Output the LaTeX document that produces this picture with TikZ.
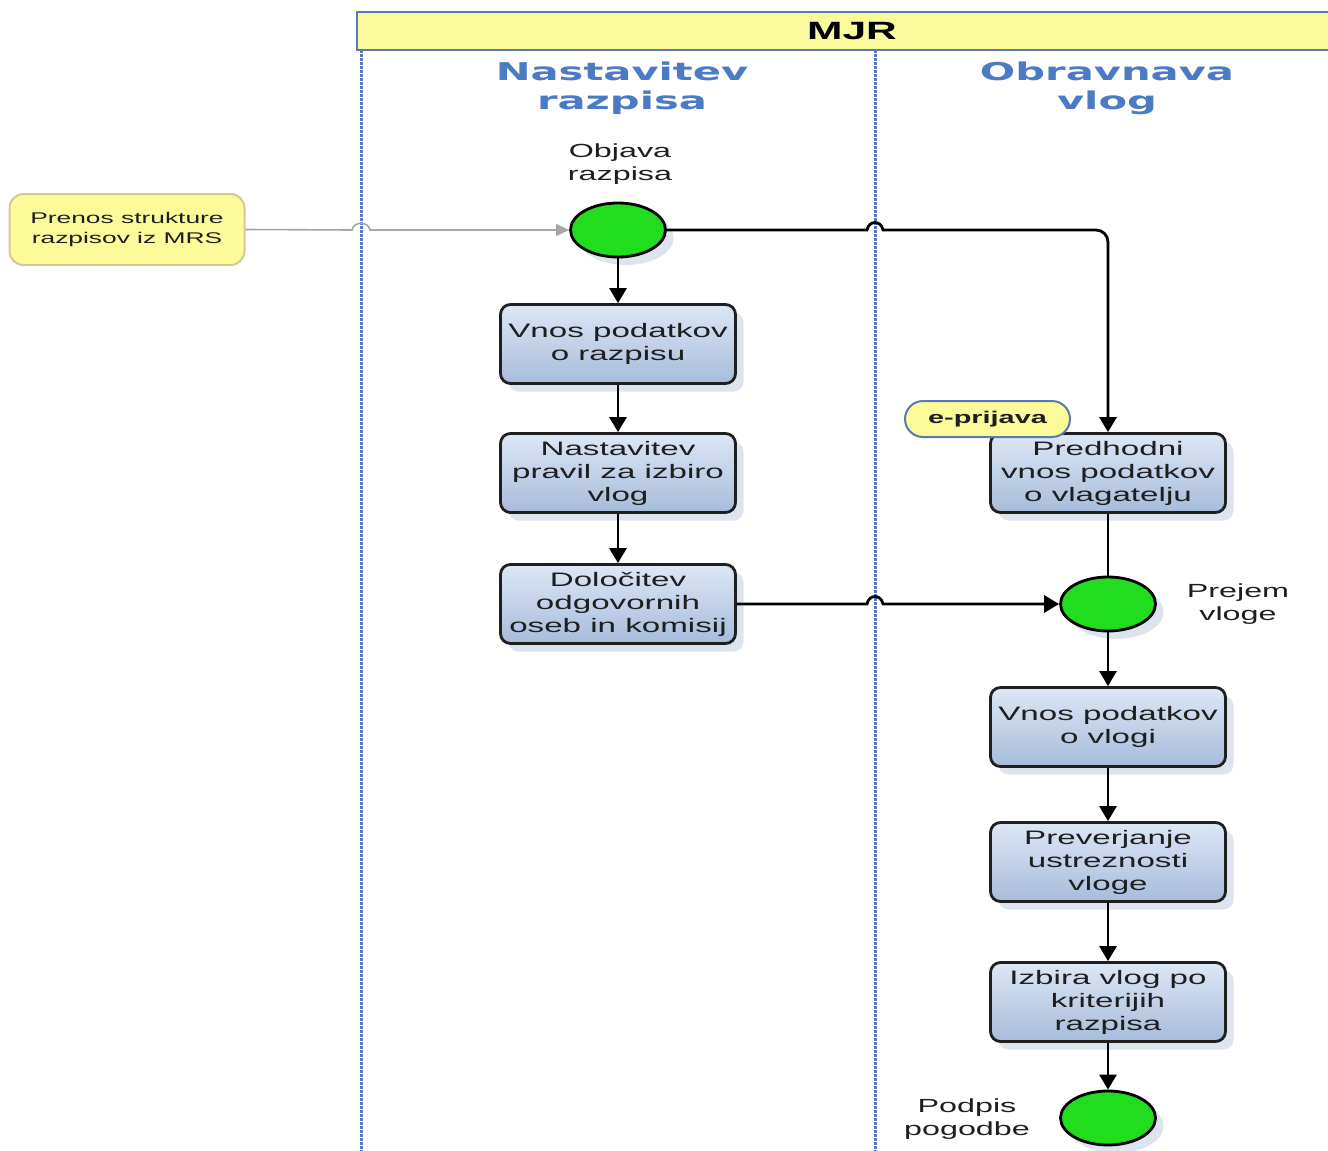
\documentclass[tikz,border=0pt]{standalone}
\usepackage{fontspec}
\setmainfont[FakeStretch=1.7]{Liberation Sans}
\newfontfamily\lanefont[FakeStretch=1.7]{DejaVu Sans}
\usetikzlibrary{arrows.meta,shapes.geometric,shadows}
\definecolor{boxtop}{HTML}{DDE7F5}
\definecolor{boxbot}{HTML}{A7BCDA}
\definecolor{shadowc}{HTML}{C9D2E3}
\definecolor{evgreen}{HTML}{22DD1E}
\definecolor{laneblue}{HTML}{4A7BC4}
\definecolor{dotblue}{HTML}{5A78B4}
\definecolor{yel}{HTML}{FCFB9A}
\definecolor{hdryel}{HTML}{FAFA9C}
\definecolor{tan}{HTML}{D2CA92}
\definecolor{txt}{HTML}{1E1E1E}
\begin{document}
\begin{tikzpicture}[x=1pt,y=-1pt,
  box/.style={draw=black!88, line width=2.8pt, rounded corners=10pt,
    top color=boxtop, bottom color=boxbot, minimum width=235pt, minimum height=79pt,
    align=center, inner sep=0pt, text=txt, font=\fontsize{19.5}{23}\selectfont,
    drop shadow={shadow xshift=8pt, shadow yshift=-8pt, fill=shadowc, opacity=0.6}},
  event/.style={ellipse, draw=black, line width=2.8pt, fill=evgreen,
    minimum width=95pt, minimum height=54pt, inner sep=0pt,
    drop shadow={shadow xshift=8pt, shadow yshift=-8pt, fill=shadowc, opacity=0.6}},
  lbl/.style={align=center, text=txt, inner sep=0pt, font=\fontsize{19}{23}\selectfont},
  lanetitle/.style={align=center, text=laneblue, inner sep=0pt, font=\lanefont\bfseries\fontsize{24.5}{29}\selectfont},
  lane/.style={draw=dotblue, line width=3pt, dash pattern=on 2.5pt off 1.5pt},
  flow/.style={draw=black, line width=2.8pt, -{Triangle[length=15pt,width=17pt]}},
  plain/.style={draw=black, line width=2.8pt},
  gflow/.style={draw=black!35, line width=1.6pt, -{Triangle[length=13pt,width=12pt]}},
]
\useasboundingbox[fill=white] (0,0) rectangle (1328,1151);

% pool header
\node[draw=dotblue, line width=2pt, fill=hdryel, minimum width=990pt, minimum height=38pt,
  inner sep=0pt, font=\bfseries\fontsize{25}{28}\selectfont, text=black] (pool) at (852,31) {MJR};

% lane separators
\draw[lane] (361,50) -- (361,1151);
\draw[lane] (875,50) -- (875,1151);

% lane titles
\node[lanetitle] (t1) at (622,88) {Nastavitev\\razpisa};
\node[lanetitle] (t2) at (1107,88) {Obravnava\\vlog};

% external box
\node[draw=tan, line width=2pt, fill=yel, rounded corners=14pt, minimum width=235pt,
  minimum height=71pt, align=center, inner sep=0pt, text=txt,
  font=\fontsize{15.5}{20}\selectfont] (prenos) at (127,229.5) {Prenos strukture\\razpisov iz MRS};

% events
\node[event] (obj) at (618,230) {};
\node[lbl] (objl) at (620,164) {Objava\\razpisa};
\node[event] (prejem) at (1108,604) {};
\node[lbl] (prejeml) at (1238,604) {Prejem\\vloge};
\node[event] (podpis) at (1108,1118) {};
\node[lbl] (podpisl) at (967,1119) {Podpis\\pogodbe};

% tasks left lane
\node[box] (vnos1) at (618,344) {Vnos podatkov\\o razpisu};
\node[box] (nast) at (618,473) {Nastavitev\\pravil za izbiro\\vlog};
\node[box] (dol) at (618,604) {Določitev\\odgovornih\\oseb in komisij};

% tasks right lane
\node[box] (pred) at (1108,473) {Predhodni\\vnos podatkov\\o vlagatelju};
\node[box] (vnos2) at (1108,727) {Vnos podatkov\\o vlogi};
\node[box] (prev) at (1108,862) {Preverjanje\\ustreznosti\\vloge};
\node[box] (izb) at (1108,1002) {Izbira vlog po\\kriterijih\\razpisa};

% e-prijava tag
\node[draw=dotblue, line width=2pt, fill=yel, rounded corners=18pt, minimum width=165pt,
  minimum height=36pt, inner sep=0pt, text=txt, font=\bfseries\fontsize{17}{20}\selectfont]
  (eprij) at (987.5,419) {e-prijava};

% connectors
\draw[gflow] (prenos.east) -- (352,230) .. controls (354,221) and (368,221) .. (370,230) -- (obj.west);
\draw[flow] (obj.south) -- (vnos1.north);
\draw[flow] (vnos1.south) -- (nast.north);
\draw[flow] (nast.south) -- (dol.north);
\draw[flow] (obj.east) -- (867,230) .. controls (869,220) and (881,220) .. (883,230)
  [rounded corners=12pt] -- (1108,230) -- (pred.north);
\draw[flow] (dol.east) -- (867,604) .. controls (869,594) and (881,594) .. (883,604)
  -- (prejem.west);
\draw[plain] (pred.south) -- (prejem.north);
\draw[flow] (prejem.south) -- (vnos2.north);
\draw[flow] (vnos2.south) -- (prev.north);
\draw[flow] (prev.south) -- (izb.north);
\draw[flow] (izb.south) -- (podpis.north);
\end{tikzpicture}
\end{document}
